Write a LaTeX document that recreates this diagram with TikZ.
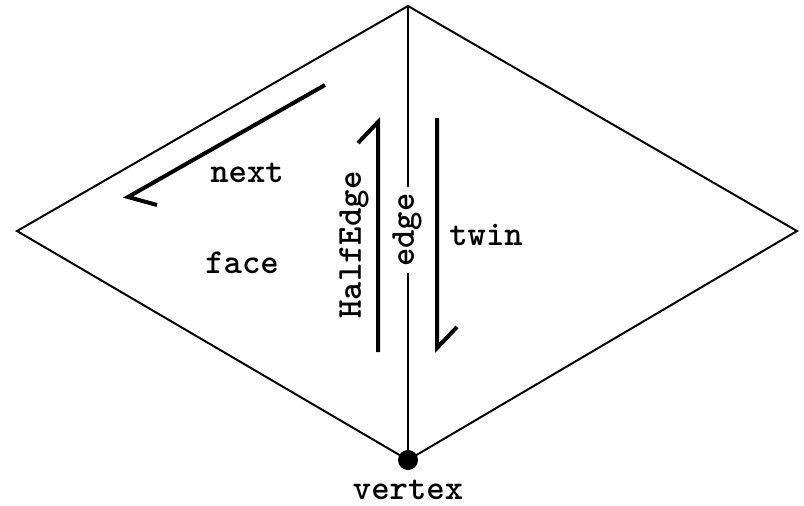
\documentclass[tikz,border=0pt]{standalone}
\usepackage{fontspec}
\begin{document}
\begin{tikzpicture}[x=1pt,y=-1pt,
  lbl/.style={font=\ttfamily\bfseries\fontsize{35}{35}\selectfont, inner sep=1pt},
  half/.style={line width=4pt, line cap=butt, line join=miter},
  edgeline/.style={line width=1.5pt},
  frame/.style={line width=2pt, line join=miter}]
\useasboundingbox (0,0) rectangle (804,506);
\coordinate (T) at (408,6);
\coordinate (R) at (797,231);
\coordinate (B) at (408,460);
\coordinate (L) at (17,231);
\draw[frame] (T) -- (R) -- (B) -- (L) -- cycle;
\draw[edgeline] (T) -- (B);
\node[lbl, fill=white, rotate=90, inner sep=6pt] (edge) at (407,230) {edge};
\node[circle, fill=black, minimum size=20pt, inner sep=0pt] (vtx) at (B) {};
\node[lbl] (vertex) at (408,490) {vertex};
% HalfEdge
\coordinate (h1s) at (378,352);
\coordinate (h1t) at (378,122);
\coordinate (h1h) at (358,143);
\draw[half] (h1s) -- (h1t) -- (h1h);
% twin
\coordinate (t1s) at (437,118);
\coordinate (t1e) at (437,348);
\coordinate (t1h) at (457,327);
\draw[half] (t1s) -- (t1e) -- (t1h);
% next
\coordinate (n1s) at (325,85);
\coordinate (n1e) at (128,197);
\coordinate (n1h) at (157,205);
\draw[half] (n1s) -- (n1e) -- (n1h);
\node[lbl, rotate=90] (halfedge) at (354,245) {HalfEdge};
\node[lbl] (twin) at (486,235) {twin};
\node[lbl] (next) at (247,173) {next};
\node[lbl] (face) at (242,263) {face};
\end{tikzpicture}
\end{document}
